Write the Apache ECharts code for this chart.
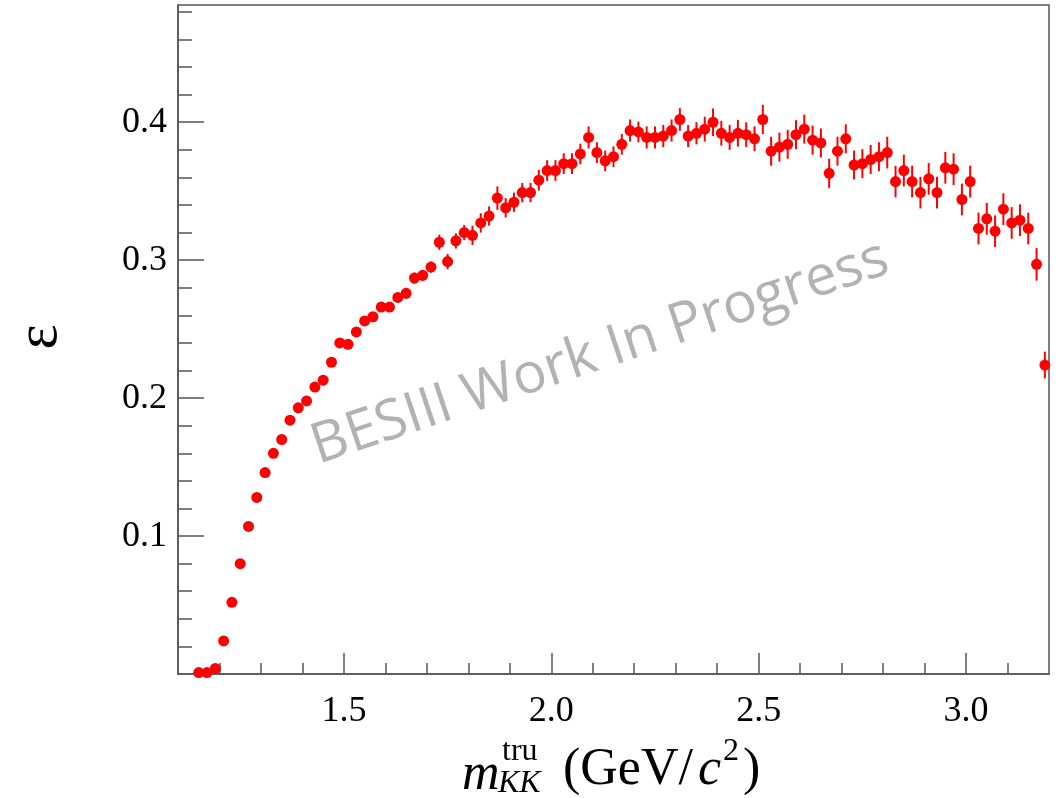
<!DOCTYPE html>
<html>
<head>
<meta charset="utf-8">
<title>Efficiency vs m_KK</title>
<script src="https://cdn.jsdelivr.net/npm/echarts@6/dist/echarts.min.js"></script>
<style>
  html, body { margin: 0; padding: 0; background: #ffffff; }
  #chart { width: 1060px; height: 798px; }
</style>
</head>
<body>
<div id="chart"></div>
<script>
// Bin centres of the true K+K- invariant mass (GeV/c^2), bin width 0.02
const binCenters = [
  1.15, 1.17, 1.19, 1.21, 1.23, 1.25, 1.27, 1.29, 1.31, 1.33,
  1.35, 1.37, 1.39, 1.41, 1.43, 1.45, 1.47, 1.49, 1.51, 1.53,
  1.55, 1.57, 1.59, 1.61, 1.63, 1.65, 1.67, 1.69, 1.71, 1.73,
  1.75, 1.77, 1.79, 1.81, 1.83, 1.85, 1.87, 1.89, 1.91, 1.93,
  1.95, 1.97, 1.99, 2.01, 2.03, 2.05, 2.07, 2.09, 2.11, 2.13,
  2.15, 2.17, 2.19, 2.21, 2.23, 2.25, 2.27, 2.29, 2.31, 2.33,
  2.35, 2.37, 2.39, 2.41, 2.43, 2.45, 2.47, 2.49, 2.51, 2.53,
  2.55, 2.57, 2.59, 2.61, 2.63, 2.65, 2.67, 2.69, 2.71, 2.73,
  2.75, 2.77, 2.79, 2.81, 2.83, 2.85, 2.87, 2.89, 2.91, 2.93,
  2.95, 2.97, 2.99, 3.01, 3.03, 3.05, 3.07, 3.09, 3.11, 3.13,
  3.15, 3.17, 3.19
];

// Detection efficiency in each bin
const efficiency = [
  0.001, 0.001, 0.004, 0.024, 0.052, 0.080, 0.107, 0.128, 0.146, 0.160,
  0.170, 0.184, 0.193, 0.198, 0.208, 0.213, 0.226, 0.240, 0.239, 0.248,
  0.256, 0.259, 0.266, 0.266, 0.273, 0.276, 0.287, 0.289, 0.295, 0.313,
  0.299, 0.314, 0.320, 0.318, 0.327, 0.332, 0.345, 0.338, 0.342, 0.349,
  0.349, 0.358, 0.365, 0.365, 0.370, 0.370, 0.377, 0.389, 0.378, 0.372,
  0.375, 0.384, 0.394, 0.393, 0.389, 0.389, 0.390, 0.394, 0.402, 0.390,
  0.392, 0.395, 0.400, 0.392, 0.389, 0.392, 0.391, 0.388, 0.402, 0.379,
  0.382, 0.384, 0.391, 0.395, 0.387, 0.385, 0.363, 0.379, 0.388, 0.369,
  0.370, 0.373, 0.375, 0.378, 0.357, 0.365, 0.357, 0.349, 0.359, 0.349,
  0.367, 0.366, 0.344, 0.357, 0.323, 0.330, 0.321, 0.337, 0.327, 0.329,
  0.323, 0.297, 0.224
];

// Statistical uncertainty on the efficiency
const efficiencyErr = [
  0.001, 0.001, 0.001, 0.001, 0.002, 0.002, 0.002, 0.002, 0.002, 0.002,
  0.002, 0.002, 0.002, 0.002, 0.002, 0.002, 0.003, 0.003, 0.003, 0.003,
  0.003, 0.003, 0.003, 0.003, 0.003, 0.004, 0.004, 0.004, 0.004, 0.0055,
  0.0055, 0.0055, 0.0055, 0.007, 0.007, 0.007, 0.0085, 0.007, 0.007, 0.007,
  0.007, 0.0075, 0.0075, 0.0075, 0.0075, 0.0075, 0.0075, 0.008, 0.0075, 0.0075,
  0.0075, 0.0075, 0.008, 0.0075, 0.008, 0.008, 0.008, 0.008, 0.0082, 0.008,
  0.008, 0.009, 0.010, 0.009, 0.009, 0.0097, 0.009, 0.009, 0.0106, 0.0105,
  0.0105, 0.0105, 0.0105, 0.0105, 0.0105, 0.0105, 0.0106, 0.0105, 0.0105, 0.0105,
  0.0105, 0.0105, 0.0105, 0.0115, 0.0114, 0.0115, 0.0115, 0.0115, 0.0115, 0.0115,
  0.0115, 0.0115, 0.0115, 0.0115, 0.0115, 0.0115, 0.0115, 0.0115, 0.0115, 0.0115,
  0.0115, 0.0118, 0.0097
];

const binHalfWidth = 0.01;

// Axis ticks and labels
const xMajorTicks = [1.5, 2.0, 2.5, 3.0];
const xMinorTicks = [1.2, 1.3, 1.4, 1.6, 1.7, 1.8, 1.9, 2.1, 2.2, 2.3, 2.4, 2.6, 2.7, 2.8, 2.9, 3.1];
const xTickLabels = ['1.5', '2.0', '2.5', '3.0'];
const yMajorTicks = [0.1, 0.2, 0.3, 0.4];
const yMinorTicks = [0.02, 0.04, 0.06, 0.08, 0.12, 0.14, 0.16, 0.18, 0.22, 0.24, 0.26, 0.28,
                     0.32, 0.34, 0.36, 0.38, 0.42, 0.44, 0.46, 0.48];
const yTickLabels = ['0.1', '0.2', '0.3', '0.4'];

const X_MIN = 1.1, X_MAX = 3.2, Y_MIN = 0, Y_MAX = 0.485;

const points = binCenters.map((x, i) => [x, efficiency[i], efficiencyErr[i]]);

const SERIF = '"Liberation Serif", "DejaVu Serif", serif';
const AXIS_COLOR = '#555555';
const RED = '#ff0000';

function labelFor(list, labels) {
  return function (v) {
    for (let i = 0; i < list.length; i++) {
      if (Math.abs(list[i] - v) < 1e-6) return labels[i];
    }
    return '';
  };
}

const chart = echarts.init(document.getElementById('chart'), null, { renderer: 'canvas' });

const option = {
  animation: false,
  backgroundColor: '#ffffff',
  grid: {
    left: 178, right: 11, top: 5, bottom: 124,
    show: true, borderColor: AXIS_COLOR, borderWidth: 1.5,
    backgroundColor: 'transparent'
  },
  xAxis: [
    {
      type: 'value', min: X_MIN, max: X_MAX, position: 'bottom',
      axisLine: { show: true, lineStyle: { color: AXIS_COLOR, width: 1.5 } },
      axisTick: { show: true, inside: true, length: 11, customValues: xMinorTicks,
                  lineStyle: { color: AXIS_COLOR, width: 1.5 } },
      axisLabel: { show: false },
      splitLine: { show: false }
    },
    {
      type: 'value', min: X_MIN, max: X_MAX, position: 'bottom',
      axisLine: { show: false },
      axisTick: { show: true, inside: true, length: 21, customValues: xMajorTicks,
                  lineStyle: { color: AXIS_COLOR, width: 1.5 } },
      axisLabel: { show: true, customValues: xMajorTicks, formatter: labelFor(xMajorTicks, xTickLabels),
                   fontFamily: SERIF, fontSize: 36, color: '#000', margin: 20 },
      splitLine: { show: false }
    }
  ],
  yAxis: [
    {
      type: 'value', min: Y_MIN, max: Y_MAX, position: 'left',
      axisLine: { show: true, lineStyle: { color: AXIS_COLOR, width: 1.5 } },
      axisTick: { show: true, inside: true, length: 14, customValues: yMinorTicks,
                  lineStyle: { color: AXIS_COLOR, width: 1.5 } },
      axisLabel: { show: false },
      splitLine: { show: false }
    },
    {
      type: 'value', min: Y_MIN, max: Y_MAX, position: 'left',
      axisLine: { show: false },
      axisTick: { show: true, inside: true, length: 26, customValues: yMajorTicks,
                  lineStyle: { color: AXIS_COLOR, width: 1.5 } },
      axisLabel: { show: true, customValues: yMajorTicks, formatter: labelFor(yMajorTicks, yTickLabels),
                   fontFamily: SERIF, fontSize: 36, color: '#000', margin: 11 },
      splitLine: { show: false }
    }
  ],
  series: [
    {
      // error bars: vertical = uncertainty, horizontal = bin half width
      type: 'custom',
      xAxisIndex: 0, yAxisIndex: 0,
      data: points,
      encode: { x: 0, y: 1 },
      clip: true,
      renderItem: function (params, api) {
        const x = api.value(0), y = api.value(1), e = api.value(2);
        const top = api.coord([x, y + e]);
        const bot = api.coord([x, y - e]);
        const l = api.coord([x - binHalfWidth, y]);
        const r = api.coord([x + binHalfWidth, y]);
        const style = { stroke: RED, lineWidth: 2 };
        return {
          type: 'group',
          children: [
            { type: 'line', shape: { x1: top[0], y1: top[1], x2: bot[0], y2: bot[1] }, style: style },
            { type: 'line', shape: { x1: l[0], y1: l[1], x2: r[0], y2: r[1] }, style: style }
          ]
        };
      },
      z: 3
    },
    {
      type: 'scatter',
      xAxisIndex: 0, yAxisIndex: 0,
      data: points.map(p => [p[0], p[1]]),
      symbol: 'circle',
      symbolSize: 11,
      itemStyle: { color: RED, opacity: 1 },
      z: 4
    }
  ],
  graphic: [
    // y-axis title
    {
      type: 'text', x: 40, y: 337, rotation: Math.PI / 2,
      style: { text: 'ε', font: '60px ' + SERIF, fill: '#000', textAlign: 'center', textVerticalAlign: 'middle' }
    },
    // x-axis title: m_{KK}^{tru} (GeV/c^2)
    {
      type: 'text', x: 462, y: 775,
      style: { text: 'm', font: 'italic 52px ' + SERIF, fill: '#000', textAlign: 'left', textVerticalAlign: 'middle' }
    },
    {
      type: 'text', x: 502, y: 752,
      style: { text: 'tru', font: '32px ' + SERIF, fill: '#000', textAlign: 'left', textVerticalAlign: 'middle' }
    },
    {
      type: 'text', x: 498, y: 784,
      style: { text: 'KK', font: 'italic 32px ' + SERIF, fill: '#000', textAlign: 'left', textVerticalAlign: 'middle' }
    },
    {
      type: 'text', x: 563, y: 770,
      style: { text: '(GeV/', font: '52px ' + SERIF, fill: '#000', textAlign: 'left', textVerticalAlign: 'middle' }
    },
    {
      type: 'text', x: 698, y: 770,
      style: { text: 'c', font: 'italic 52px ' + SERIF, fill: '#000', textAlign: 'left', textVerticalAlign: 'middle' }
    },
    {
      type: 'text', x: 723, y: 752,
      style: { text: '2', font: '32px ' + SERIF, fill: '#000', textAlign: 'left', textVerticalAlign: 'middle' }
    },
    {
      type: 'text', x: 743, y: 770,
      style: { text: ')', font: '52px ' + SERIF, fill: '#000', textAlign: 'left', textVerticalAlign: 'middle' }
    },
    // watermark
    {
      type: 'text', x: 600, y: 353, rotation: 18.5 * Math.PI / 180, z: 10,
      style: { text: 'BESIII Work In Progress', font: '56px "Open Sans", "Noto Sans", sans-serif',
               fill: '#b2b2b2', textAlign: 'center', textVerticalAlign: 'middle' }
    }
  ]
};

chart.setOption(option);
</script>
</body>
</html>
